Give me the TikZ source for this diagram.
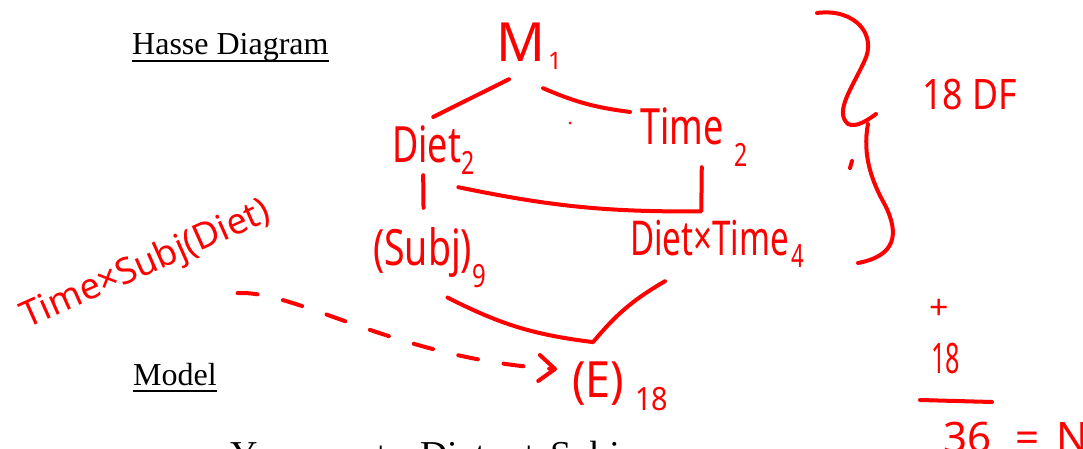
\documentclass[tikz,border=0pt]{standalone}
\usepackage{fontspec}
\setmainfont{Liberation Serif}
\newfontfamily\handfont{Noto Sans}
\usetikzlibrary{arrows.meta}
\newcommand\dn[2][0pt]{\raisebox{#1}{\fontsize{32}{32}\selectfont #2}}

\begin{document}
\begin{tikzpicture}[x=1pt, y=-1pt,
  hand/.style={text=red, font=\handfont\fontsize{50}{50}\selectfont, inner sep=0pt, anchor=base west, xscale=#1},
  hand/.default=0.72,
  edge/.style={draw=red, line width=4pt, line cap=round, line join=round},
  dashline/.style={draw=red, line width=4pt, line cap=round, dash pattern=on 20pt off 26pt,
    -{Straight Barb[length=16pt, width=26pt, round]}},
  slide/.style={font=\fontsize{32}{38}\selectfont, inner sep=0pt, anchor=base west},
]
  \fill[white] (0,0) rectangle (1083,449);
  \useasboundingbox (0,0) rectangle (1083,449);
  \clip (0,0) rectangle (1083,449);

  % --- slide text ---
  \node[slide] (hasse) at (132,55) {Hasse Diagram};
  \draw[line width=2pt] ([shift={(0,6)}]hasse.base west) -- ([shift={(0,6)}]hasse.base east);
  \node[slide] (model) at (133,385) {Model};
  \draw[line width=2pt] ([shift={(0,6)}]model.base west) -- ([shift={(0,6)}]model.base east);
  \node[slide, font=\fontsize{38}{42}\selectfont] (eq) at (230,467)
    {Y\textsubscript{ijk}\hspace{15pt}=\hspace{15pt}μ\hspace{13pt}+\hspace{28pt}Diet\textsubscript{i}\hspace{25pt}+\hspace{10pt}Subj};

  % --- hasse diagram ---
  \node[hand=1, font=\handfont\fontsize{54}{54}\selectfont] (m) at (496,62) {M\hspace{3pt}\raisebox{-8pt}{\fontsize{24}{24}\selectfont 1}};
  \node[hand] (diet) at (392,163) {Diet\dn[-12pt]{2}};
  \node[hand] (time) at (640,145) {Time\hspace{15pt}\dn[-22pt]{2}};
  \node[hand=0.75] (subj) at (373,265) {(Subj)\dn[-22pt]{9}};
  \node[hand=0.69, font=\handfont\fontsize{48}{48}\selectfont] (dxt) at (630,255) {Diet×Time\hspace{4pt}\dn[-12pt]{4}};
  \node[hand=0.9] (err) at (572,397) {(E)\hspace{12pt}\dn[-13pt]{18}};
  \draw[edge] ([shift={(13,9)}]m.south west) -- ([shift={(0,-9)}]diet.north);
  \draw[edge] ([shift={(14,18)}]m.south) to[bend right=8] ([shift={(-10,4)}]time.north west);
  \draw[edge] ([shift={(-10,0)}]diet.south) -- ([shift={(-6,-19)}]subj.north);
  \draw[edge] ([shift={(-16,12)}]diet.south east) to[bend right=6] ([shift={(-16,-8)}]dxt.north)
    -- ([shift={(8,0)}]time.south);
  \draw[edge] ([shift={(18,10)}]subj.south) to[bend right=10] ([shift={(-27,-19)}]err.north)
    to[bend left=10] ([shift={(35,14)}]dxt.south west);
  \fill[red] (570,123) circle (1.5);

  % --- error term ---
  \node[hand=1, font=\handfont\fontsize{36}{36}\selectfont, rotate=24, anchor=base] (tsd) at (150,274) {Time×Subj(Diet)};
  \draw[dashline] ([shift={(84,11)}]tsd.south) .. controls +(60,-3) and +(-160,-10) .. ([shift={(-15,8)}]err.north west);

  % --- degrees of freedom ---
  \draw[edge] (817,13) .. controls (855,8) and (878,35) .. (864,62) .. controls (852,88) and (834,112) .. (848,124)
    .. controls (856,128) and (868,120) .. (876,114);
  \draw[edge] (868,124) .. controls (862,155) and (872,182) .. (885,205) .. controls (900,235) and (895,256) .. (858,263);
  \draw[edge] (852,161) -- (850,168);
  \node[hand=0.85, font=\handfont\fontsize{42}{42}\selectfont] (df) at (922,110) {18 DF};
  \node[hand=1, font=\handfont\fontsize{34}{34}\selectfont] (plus) at (929,319) {+};
  \node[hand=0.6, font=\handfont\fontsize{42}{42}\selectfont] (sumb) at (931,373) {18};
  \draw[edge] (920,400) -- (992,402);
  \node[hand=1, font=\handfont\fontsize{42}{42}\selectfont] (total) at (943,452) {36\hspace{24pt}=\hspace{17pt}N};
\end{tikzpicture}
\end{document}
